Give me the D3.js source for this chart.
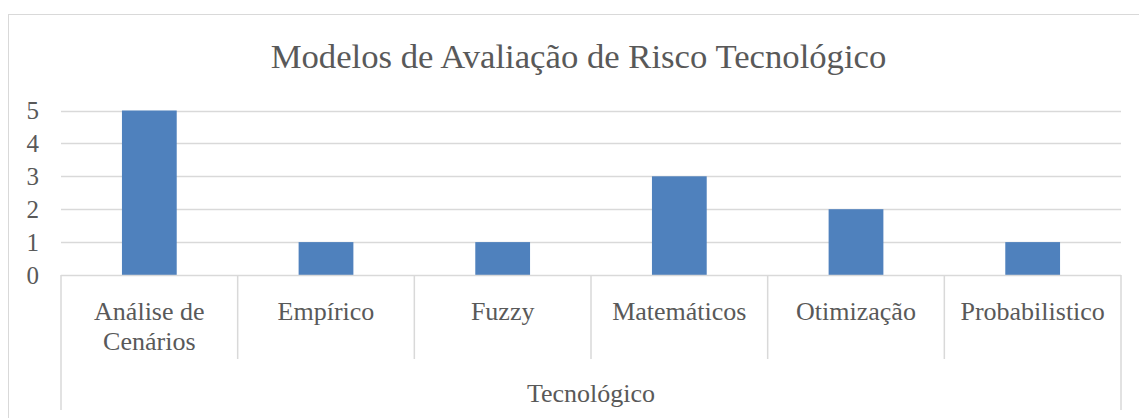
<!DOCTYPE html>
<html>
<head>
<meta charset="utf-8">
<script src="https://cdn.jsdelivr.net/npm/d3@7"></script>
<style>
	body { margin: 0; background: #fff; }
	text { font-family: "Liberation Serif", "DejaVu Serif", serif; fill: #595959; }
</style>
</head>
<body>
<div id="chart"></div>
<script>
// data
let categories = ["Análise de Cenários", "Empírico", "Fuzzy", "Matemáticos", "Otimização", "Probabilistico"];
let counts = [5, 1, 1, 3, 2, 1];
let groupLabel = "Tecnológico";
let yTicks = [0, 1, 2, 3, 4, 5];
let title = "Modelos de Avaliação de Risco Tecnológico";

let width = 1139, height = 418;
let plot = { left: 61, right: 1121, top: 110.5, bottom: 275 };

let svg = d3.select("#chart").append("svg")
	.attr("width", width)
	.attr("height", height);

// chart frame (runs off the right and bottom of the picture)
svg.append("rect")
	.attr("x", 8.5).attr("y", 14.5)
	.attr("width", 1160).attr("height", 440)
	.attr("fill", "none")
	.attr("stroke", "#d9d9d9");

let x = d3.scaleBand()
	.domain(categories)
	.range([plot.left, plot.right])
	.paddingInner(0)
	.paddingOuter(0);

let y = d3.scaleLinear()
	.domain([0, 5])
	.range([plot.bottom, plot.top]);

// gridlines
svg.append("g").selectAll("line")
	.data(yTicks.filter(d => d > 0))
	.join("line")
	.attr("x1", plot.left).attr("x2", plot.right)
	.attr("y1", d => Math.round(y(d)) + 0.5)
	.attr("y2", d => Math.round(y(d)) + 0.5)
	.attr("stroke", "#d9d9d9")
	.attr("stroke-width", 1.5);

// y tick labels
svg.append("g").selectAll("text")
	.data(yTicks)
	.join("text")
	.attr("x", 39)
	.attr("y", d => y(d))
	.attr("dy", "0.35em")
	.attr("text-anchor", "end")
	.style("font-size", "25px")
	.text(d => d);

// bars
let barW = x.bandwidth() * 0.31;
svg.append("g").selectAll("rect")
	.data(counts)
	.join("rect")
	.attr("x", (d, i) => x(categories[i]) + (x.bandwidth() - barW) / 2)
	.attr("y", d => y(d))
	.attr("width", barW)
	.attr("height", d => y(0) - y(d))
	.attr("fill", "#4f81bd");

// category axis: baseline + separators
let axis = svg.append("g").attr("stroke", "#d9d9d9").attr("stroke-width", 1.5);
axis.append("line")
	.attr("x1", plot.left).attr("x2", plot.right)
	.attr("y1", plot.bottom + 0.5).attr("y2", plot.bottom + 0.5);

let bounds = categories.map(c => x(c)).concat([plot.right]);
axis.selectAll("line.sep")
	.data(bounds)
	.join("line")
	.classed("sep", true)
	.attr("x1", d => d).attr("x2", d => d)
	.attr("y1", plot.bottom)
	.attr("y2", (d, i) => (i === 0 || i === bounds.length - 1) ? 410 : 359);

// category labels (Análise de Cenários wraps)
let catLabels = svg.append("g").selectAll("text")
	.data(categories)
	.join("text")
	.attr("x", d => x(d) + x.bandwidth() / 2)
	.attr("y", 320)
	.attr("text-anchor", "middle")
	.style("font-size", "26px");

catLabels.each(function(d) {
	let lines = d === "Análise de Cenários" ? ["Análise de", "Cenários"] : [d];
	d3.select(this).selectAll("tspan")
		.data(lines)
		.join("tspan")
		.attr("x", x(d) + x.bandwidth() / 2)
		.attr("dy", (l, i) => i === 0 ? 0 : 30)
		.text(l => l);
});

// group label
svg.append("text")
	.attr("x", (plot.left + plot.right) / 2)
	.attr("y", 402)
	.attr("text-anchor", "middle")
	.style("font-size", "26px")
	.text(groupLabel);

// title
svg.append("text")
	.attr("x", 578.5)
	.attr("y", 68)
	.attr("text-anchor", "middle")
	.style("font-size", "34.7px")
	.text(title);
</script>
</body>
</html>
